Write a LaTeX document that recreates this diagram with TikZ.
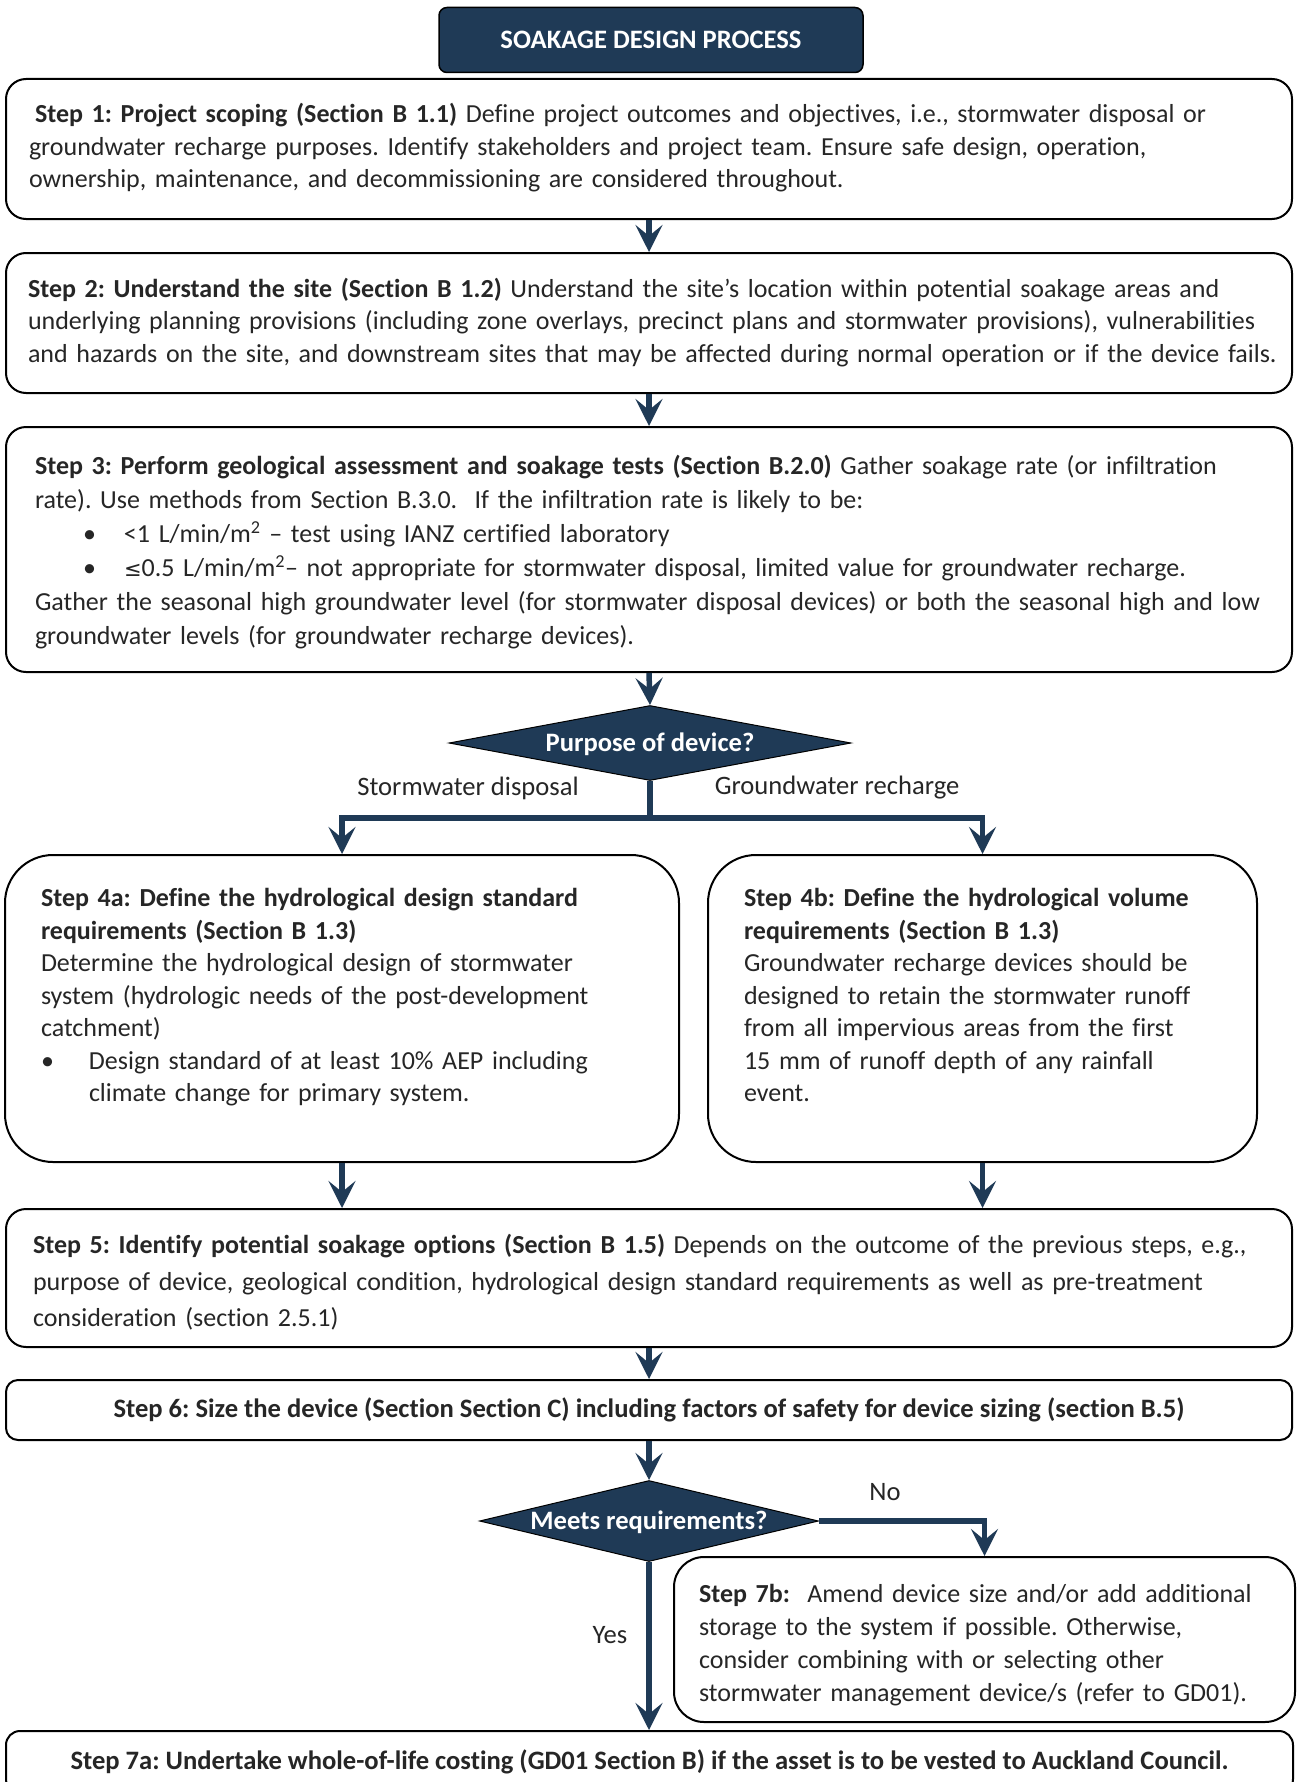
\documentclass[tikz,border=0pt]{standalone}
\usepackage{fontspec}
\setmainfont{Carlito}[Ligatures=NoCommon]
\newfontfamily\symfont{DejaVu Sans}
\usepackage{tikz}
\usetikzlibrary{arrows.meta,shapes.geometric}
\definecolor{soakblue}{HTML}{1F3A56}
\definecolor{soakgrey}{HTML}{262626}
\newcommand{\bodysize}{\fontsize{26.6pt}{32.5pt}\selectfont}
\newcommand{\stepsize}{\fontsize{26pt}{32.5pt}\selectfont}
\frenchspacing

\tikzset{
  stepbox/.style={draw=black, line width=2pt, fill=white, rounded corners=20pt,
    text=soakgrey, font=\stepsize, align=left, inner ysep=0pt},
  decision/.style={diamond, draw=black, line width=1pt, fill=soakblue, aspect=4.5,
    text=white, font=\bodysize\bfseries, inner sep=0pt, text height=17pt, text depth=0pt},
  flow/.style={draw=soakblue, line width=5.5pt,
    -{Stealth[length=27pt, width=27pt, inset=11pt]}},
  flowlabel/.style={text=soakgrey, font=\bodysize},
}

\begin{document}
\begin{tikzpicture}[x=1pt, y=-1pt]
  \clip (0,0) rectangle (1297,1782);
  \fill[white] (0,0) rectangle (1297,1782);

  \node[fill=soakblue, draw=black, line width=1.5pt, rounded corners=8pt,
    minimum width=424pt, minimum height=65pt, text=white, font=\bodysize\bfseries]
    (title) at (651,40) {SOAKAGE DESIGN PROCESS};

  \node[stepbox, minimum height=140pt, text width=1240pt, inner xsep=23pt]
    (s1) at (649,149) {\begin{tabular}{@{}l@{}}
    \hspace*{6pt}\textbf{Step 1: Project scoping (Section B 1.1)} Define project outcomes and objectives, i.e., stormwater disposal or\\
    groundwater recharge purposes. Identify stakeholders and project team. Ensure safe design, operation,\\
    ownership, maintenance, and decommissioning are considered throughout.
    \end{tabular}};

  \node[stepbox, minimum height=140pt, text width=1242pt, inner xsep=22pt]
    (s2) at (649,323) {\begin{tabular}{@{}l@{}}
    \textbf{Step 2: Understand the site (Section B 1.2)} Understand the site’s location within potential soakage areas and\\
    underlying planning provisions (including zone overlays, precinct plans and stormwater provisions), vulnerabilities\\
    and hazards on the site, and downstream sites that may be affected during normal operation or if the device fails.
    \end{tabular}};

  \node[stepbox, minimum height=245pt, text width=1228pt, inner xsep=29pt,
    font=\fontsize{26pt}{34pt}\selectfont]
    (s3) at (649,549.5) {\begin{tabular}{@{}l@{}}
    \textbf{Step 3: Perform geological assessment and soakage tests (Section B.2.0)} Gather soakage rate (or infiltration\\
    rate). Use methods from Section B.3.0.\ \ If the infiltration rate is likely to be:\\
    \makebox[89pt][l]{\hspace*{48pt}\textbullet}<1 L/min/m\textsuperscript{2} – test using IANZ certified laboratory\\
    \makebox[89pt][l]{\hspace*{48pt}\textbullet}{\symfont\fontsize{21pt}{34pt}\selectfont ≤}0.5 L/min/m\textsuperscript{2}– not appropriate for stormwater disposal, limited value for groundwater recharge.\\
    Gather the seasonal high groundwater level (for stormwater disposal devices) or both the seasonal high and low\\
    groundwater levels (for groundwater recharge devices).\\[-6pt]
    \end{tabular}};

  \node[decision, minimum width=402pt, minimum height=75pt]
    (purpose) at (650,743) {Purpose of device?};
  \node[flowlabel] (lblstorm) at (468,788) {Stormwater disposal};
  \node[flowlabel] (lblground) at (837,788) {Groundwater recharge};

  \node[stepbox, rounded corners=48pt, minimum height=307pt, text width=602pt, inner xsep=36pt]
    (s4a) at (342,1008.5) {\begin{tabular}{@{}l@{}}
    \textbf{Step 4a: Define the hydrological design standard}\\
    \textbf{requirements (Section B 1.3)}\\
    Determine the hydrological design of stormwater\\
    system (hydrologic needs of the post-development\\
    catchment)\\
    \makebox[48pt][l]{\textbullet}Design standard of at least 10\% AEP including\\
    \hspace*{48pt}climate change for primary system.\\[22pt]
    \end{tabular}};

  \node[stepbox, rounded corners=48pt, minimum height=307pt, text width=477pt, inner xsep=36pt]
    (s4b) at (982.5,1008.5) {\begin{tabular}{@{}l@{}}
    \textbf{Step 4b: Define the hydrological volume}\\
    \textbf{requirements (Section B 1.3)}\\
    Groundwater recharge devices should be\\
    designed to retain the stormwater runoff\\
    from all impervious areas from the first\\
    15 mm of runoff depth of any rainfall\\
    event.\\[22pt]
    \end{tabular}};

  \node[stepbox, minimum height=138pt, text width=1232pt, inner xsep=27pt,
    font=\fontsize{26pt}{36.5pt}\selectfont]
    (s5) at (649,1278) {\begin{tabular}{@{}l@{}}
    \textbf{Step 5: Identify potential soakage options (Section B 1.5)} Depends on the outcome of the previous steps, e.g.,\\
    purpose of device, geological condition, hydrological design standard requirements as well as pre-treatment\\
    consideration (section 2.5.1)\\[-10pt]
    \end{tabular}};

  \node[stepbox, rounded corners=12pt, minimum width=1286pt, minimum height=60pt,
    align=center, font=\bodysize\bfseries]
    (s6) at (649,1410) {Step 6: Size the device (Section Section C) including factors of safety for device sizing (section B.5)};

  \node[decision, minimum width=339pt, minimum height=81pt]
    (meets) at (649,1521) {Meets requirements?};
  \node[flowlabel] (lblno) at (885,1492) {No};
  \node[flowlabel] (lblyes) at (610,1635) {Yes};

  \node[stepbox, rounded corners=30pt, minimum height=165pt, text width=571pt, inner xsep=25pt,
    font=\fontsize{26pt}{33pt}\selectfont]
    (s7b) at (984.5,1639.5) {\begin{tabular}{@{}l@{}}
    \textbf{Step 7b:}\ \ Amend device size and/or add additional\\
    storage to the system if possible. Otherwise,\\
    consider combining with or selecting other\\
    stormwater management device/s (refer to GD01).\\[-12pt]
    \end{tabular}};

  \node[stepbox, rounded corners=14pt, minimum width=1287pt, minimum height=62pt,
    align=center, font=\bodysize\bfseries]
    (s7a) at (649.5,1762) {Step 7a: Undertake whole-of-life costing (GD01 Section B) if the asset is to be vested to Auckland Council.};

  \draw[flow] (s1.south) -- (s2.north);
  \draw[flow] (s2.south) -- (s3.north);
  \draw[flow] (s3.south) -- (purpose.north);
  \draw[flow] (purpose.south) -- ++(0,37) -| (s4a.north);
  \draw[flow] (purpose.south) -- ++(0,37) -| (s4b.north);
  \draw[flow] (s4a.south) -- (s4a.south |- s5.north);
  \draw[flow] (s4b.south) -- (s4b.south |- s5.north);
  \draw[flow] (s5.south) -- (s6.north);
  \draw[flow] (s6.south) -- (meets.north);
  \draw[flow] (meets.east) -| (s7b.north);
  \draw[flow] (meets.south) -- (meets.south |- s7a.north);
\end{tikzpicture}
\end{document}
